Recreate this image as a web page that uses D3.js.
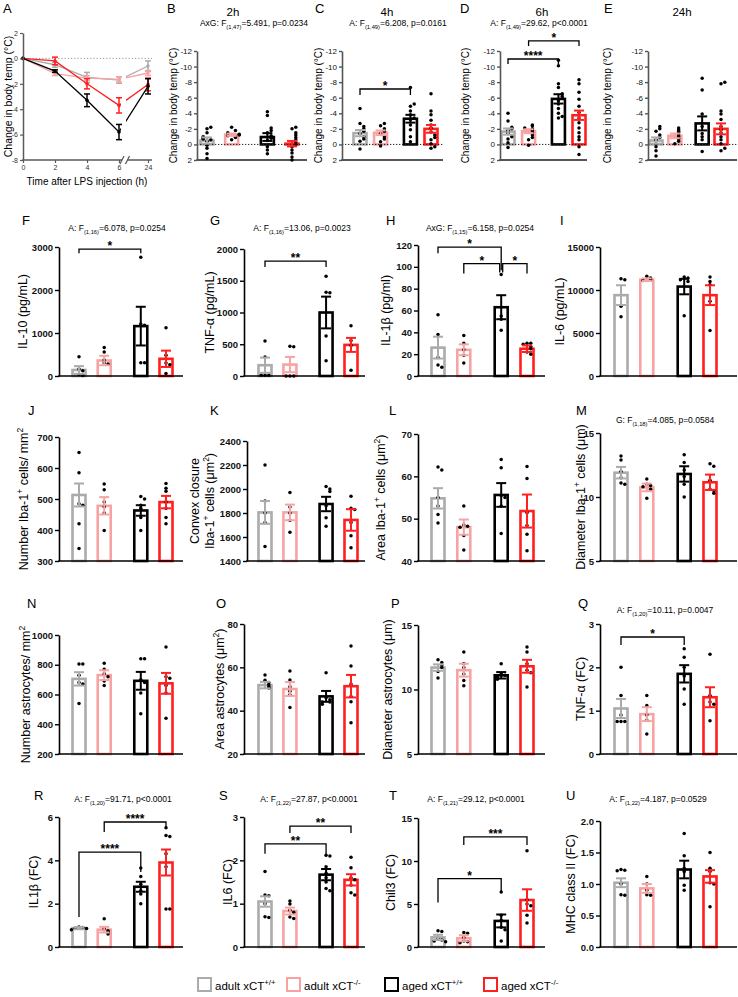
<!DOCTYPE html>
<html><head><meta charset="utf-8">
<script src="https://cdn.jsdelivr.net/npm/d3@7/dist/d3.min.js"></script>
<style>html,body{margin:0;padding:0;background:#fff}svg{display:block}</style>
</head><body>
<svg id="chart" width="738" height="997"></svg>
<script>
const FONT = "'Liberation Sans', Arial, Helvetica, sans-serif";
const groupNames = ["adult xCT^{+/+}", "adult xCT^{-/-}", "aged xCT^{+/+}", "aged xCT^{-/-}"];
const groupColors = ["#ababab", "#f7a3a3", "#000000", "#ff1f1f"];
const groupSlots = [0, 1, 2.45, 3.45];

// ---- Panel A: time course ----
const timeTicks = [0, 2, 4, 6, 24];
const tempTicks = [-8, -6, -4, -2, 0, 2];
const tempMeanAdultWT = [0, -0.5, -1.5, -1.7, -0.6];
const tempSemAdultWT  = [0, 0.2, 0.4, 0.25, 0.4];
const tempMeanAdultKO = [0, -1.2, -1.55, -1.65, -1.15];
const tempSemAdultKO  = [0, 0.15, 0.2, 0.2, 0.2];
const tempMeanAgedWT  = [0, -1.0, -3.3, -5.8, -2.2];
const tempSemAgedWT   = [0, 0.1, 0.5, 0.6, 0.6];
const tempMeanAgedKO  = [0, -0.2, -2.0, -3.7, -2.05];
const tempSemAgedKO   = [0, 0.3, 0.4, 0.6, 0.5];

// ---- Panels B-E: change in body temp ----
const ticksTemp = [2, 0, -2, -4, -6, -8, -10, -12];
const meanB = [-0.5, -1.25, -0.95, -0.1];
const semB  = [0.4, 0.15, 0.5, 0.35];
const ptsB = [[-2.2,-2.0,-1.5,-1.0,-0.8,-0.7,-0.6,-0.4,0.1,0.5,1.2,1.8],
              [-2.2,-1.8,-1.5,-1.3,-1.2,-1.1,-1.0,-0.9,-0.6],
              [-4.2,-3.7,-2.1,-1.8,-1.5,-1.1,-0.8,-0.5,0.3,0.7,1.2],
              [-2.2,-2.0,-1.5,-1.2,-0.9,-0.6,-0.3,0,0.3,0.7,1.1,1.6,2.0]];
const meanC = [-1.45, -1.5, -3.3, -2.0];
const semC  = [0.4, 0.3, 0.5, 0.5];
const ptsC = [[-4.6,-2.7,-2.3,-2.0,-1.7,-1.4,-1.0,-0.7,-0.4,0.6],
              [-2.7,-2.4,-2.0,-1.7,-1.4,-1.0,-0.7,-0.35,0.2],
              [-7.3,-5.2,-4.9,-4.3,-3.8,-3.4,-3.2,-2.5,-1.9,-1.0,-0.35],
              [-6.5,-4.3,-3.8,-3.1,-2.5,-2.1,-1.6,-1.2,-0.9,-0.6,-0.1,0.3,0.5]];
const meanD = [-1.65, -1.7, -5.85, -3.75];
const semD  = [0.4, 0.25, 0.6, 0.6];
const ptsD = [[-4.0,-3.0,-2.2,-2.0,-1.8,-1.4,-1.0,-0.7,-0.2,0.4],
              [-2.5,-2.4,-2.1,-2.0,-1.8,-1.5,-1.2,-0.9,-0.6,0.1],
              [-10.8,-10.1,-7.8,-7.3,-6.5,-6.2,-5.9,-5.6,-5.2,-4.6,-4.0,-3.6,-3.4],
              [-8.3,-7.8,-6.7,-5.8,-4.9,-4.1,-3.4,-2.8,-2.1,-1.5,-1.0,-0.6,0.3,1.3]];
const meanE = [-0.5, -1.1, -2.7, -2.0];
const semE  = [0.4, 0.3, 0.9, 0.7];
const ptsE = [[-2.3,-2.0,-1.7,-1.2,-0.9,-0.6,-0.1,0.3,0.8,1.5],
              [-2.1,-1.9,-1.7,-1.5,-1.2,-1.0,-0.7,-0.4,-0.1],
              [-8.5,-7.0,-3.9,-2.3,-1.4,-1.0,-0.6,0.9],
              [-8.0,-7.8,-4.3,-3.9,-3.2,-2.3,-1.9,-1.5,-1.0,-0.6,-0.1,0.5,0.8]];

// ---- F-I: serum cytokines ----
const ticksF = [0, 1000, 2000, 3000];
const meanF = [140, 360, 1160, 400];
const semF  = [90, 110, 450, 190];
const ptsF = [[450,160,120,40,10],[660,560,370,300,280],[2760,1210,1180,310,310],[1120,480,300,260,60]];
const ticksG = [0, 500, 1000, 1500, 2000];
const meanG = [170, 180, 1000, 490];
const semG  = [120, 120, 250, 110];
const ptsG = [[550,300,10,10,10],[470,460,0,0,0],[1570,1320,1310,630,240],[790,560,480,90]];
const ticksH = [0, 20, 40, 60, 80, 100, 120];
const meanH = [26, 24, 63, 25];
const semH  = [10, 5, 11, 3];
const ptsH = [[56,38,17,10,8],[37,30,24,19,12],[93,55,52,42],[30,30,29,27,25,22,20]];
const ticksI = [0, 5000, 10000, 15000];
const meanI = [9400, 11200, 10400, 9400];
const semI  = [1150, 150, 900, 1150];
const ptsI = [[11300,11200,8100,6900],[11600,11400,11200,11100],[11500,11400,11200,11000,7000],[11500,11000,10600,8700,5300]];

// ---- J-M: microglia ----
const ticksJ = [300, 400, 500, 600, 700];
const meanJ = [513, 478, 463, 490];
const semJ  = [37, 28, 17, 20];
const ptsJ = [[650,585,485,480,420,340],[548,530,490,475,455,398],[508,500,480,470,440,398],[550,535,525,490,470,440,420]];
const ticksK = [1400, 1600, 1800, 2000, 2200, 2400];
const meanK = [1805, 1805, 1875, 1742];
const semK  = [95, 65, 60, 90];
const ptsK = [[2200,1900,1800,1720,1520],[1970,1850,1800,1740,1640],[2020,2000,1980,1860,1760,1690],[1940,1840,1830,1720,1610,1510]];
const ticksL = [40, 50, 60, 70];
const meanL = [54.8, 48, 55.6, 51.8];
const semL  = [2.4, 1.8, 2.8, 3.9];
const ptsL = [[62.2,61.5,55,53,51,49],[53,48.5,48.2,48,46,42.6],[64,62,55.5,55,53,46.5],[62.3,59.5,51.4,48.4,46.3,42.4]];
const ticksM = [5, 10, 15];
const meanM = [11.9, 10.75, 11.8, 11.15];
const semM  = [0.45, 0.3, 0.6, 0.6];
const ptsM = [[13.2,12.9,12.0,11.5,11.1,11.0],[11.4,11.0,10.9,10.8,10.6,9.9],[13.3,12.7,12.1,11.6,11.0,10.0],[12.6,12.4,11.3,10.6,10.5,10.3]];

// ---- N-Q: astrocytes / TNF ----
const ticksN = [200, 400, 600, 800, 1000];
const meanN = [705, 730, 692, 675];
const semN  = [45, 33, 60, 70];
const ptsN = [[805,805,730,680,670,540],[810,770,740,720,690,660],[840,840,700,680,610,470],[920,720,710,660,610,440]];
const ticksO = [20, 40, 60, 80];
const meanO = [51.8, 50, 46.6, 51.3];
const semO  = [1.5, 3.2, 2.5, 5.2];
const ptsO = [[56.5,54,53,52,51,50.5],[58.3,54.2,51,49,47.3,41.5],[57.5,46,45,44,44,43],[69.8,60.6,52.3,46.5,44.1,34.4]];
const ticksP = [5, 10, 15];
const meanP = [11.7, 11.5, 11.1, 11.8];
const semP  = [0.25, 0.5, 0.25, 0.5];
const ptsP = [[12.3,12.1,11.9,11.7,11.4,10.9],[12.9,12.0,11.7,11.2,10.7,10.3],[12.0,11.2,11.1,11.0,10.9,10.8],[13.3,12.9,12.0,11.5,11.3,10.2]];
const ticksQ = [0, 1, 2, 3];
const meanQ = [1.05, 0.92, 1.85, 1.31];
const semQ  = [0.22, 0.16, 0.2, 0.23];
const ptsQ = [[2.0,1.35,0.9,0.75,0.75,0.75],[1.35,1.12,0.9,0.78,0.46],[2.43,2.23,2.0,1.8,1.5,1.15],[2.3,1.35,1.2,1.15,0.77]];

// ---- R-U: gene expression ----
const ticksR = [0, 2, 4, 6];
const meanR = [0.87, 0.8, 2.78, 3.9];
const semR  = [0.05, 0.13, 0.23, 0.6];
const ptsR = [[0.92,0.9,0.87,0.85,0.8],[1.3,0.85,0.75,0.7,0.6],[3.65,3.25,2.9,2.6,2.45,2.0],[5.5,5.15,5.1,4.3,3.7,1.75,1.75]];
const ticksS = [0, 1, 2, 3];
const meanS = [1.05, 0.83, 1.67, 1.55];
const semS  = [0.12, 0.08, 0.13, 0.13];
const ptsS = [[1.74,1.2,1.18,1.0,0.7,0.68],[1.06,0.99,0.85,0.8,0.69,0.66],[2.12,2.1,1.85,1.7,1.6,1.5,1.35,1.3],[2.07,1.83,1.6,1.55,1.43,1.25,1.2]];
const ticksT = [0, 5, 10, 15];
const meanT = [1.12, 1.02, 3.03, 5.46];
const semT  = [0.3, 0.35, 0.75, 1.25];
const ptsT = [[1.9,1.8,0.9,0.8,0.7,0.6],[1.7,1.6,1.1,0.7,0.6,0.5],[6.4,3.7,3.1,2.3,2.0,0.7],[11.2,5.5,5.0,4.8,3.7,2.8]];
const ticksU = [0, 0.5, 1.0, 1.5, 2.0];
const meanU = [1.02, 0.93, 1.23, 1.12];
const semU  = [0.07, 0.07, 0.14, 0.1];
const ptsU = [[1.23,1.22,1.21,1.0,0.83,0.82],[1.12,1.0,0.9,0.83,0.82],[1.8,1.45,1.25,1.2,0.98,0.9],[1.5,1.25,1.2,1.02,1.0,0.64]];

// brackets: [groupA, groupB, value, legA(px), legB(px), label, dxA, dxB]
const bracketsC = [[0, 2, -7.12, 6, 6, "*"]];
const bracketsD = [[0, 2, -10.97, 5, 5, "****"], [1, 3, -13.3, 5, 5, "*"]];
const bracketsF = [[0, 2, 2950, 4, 4, "*"]];
const bracketsG = [[0, 2, 1810, 6, 6, "**"]];
const bracketsH = [[0, 2, 118, 6, 23, "*"], [1, 2, 103, 10, 9, "*", 0, -1.5], [2, 3, 103, 9, 10, "*", 1.5, 0]];
const bracketsQ = [[0, 2, 2.7, 8, 8, "*"]];
const bracketsR = [[0, 2, 4.38, 65, 20, "****"], [1, 3, 5.77, 10, 6, "****"]];
const bracketsS = [[0, 2, 2.38, 10, 13, "**"], [1, 3, 2.79, 7, 7, "**"]];
const bracketsT = [[0, 2, 7.96, 24, 13, "*"], [1, 3, 12.8, 8, 8, "***"]];

const svg = d3.select("#chart").attr("font-family", FONT);

function segs(str) {
  const out = []; const re = /(\^\{[^}]*\}|_\{[^}]*\})/g; let last = 0, m;
  while ((m = re.exec(str))) {
    if (m.index > last) out.push({t: str.slice(last, m.index)});
    out.push({t: m[0].slice(2, -1), sup: m[0][0] === '^', sub: m[0][0] === '_'});
    last = re.lastIndex;
  }
  if (last < str.length) out.push({t: str.slice(last)});
  return out;
}
function richText(sel, str, size) {
  let shift = 0;
  segs(str).forEach(s => {
    const target = s.sup ? -size * 0.4 : s.sub ? size * 0.3 : 0;
    const t = sel.append("tspan").attr("dy", target - shift).text(s.t);
    if (s.sup || s.sub) t.attr("font-size", size * 0.68);
    shift = target;
  });
}

function drawBarPanel(p) {
  const g = svg.append("g");
  const y = d3.scaleLinear().domain([p.ticks[0], p.ticks[p.ticks.length - 1]]).range([p.yBot, p.yTop]);
  const x = d3.scaleLinear().domain([groupSlots[0], groupSlots[3]]).range([p.c0, p.c3]);
  const base = p.row1 ? 0 : p.ticks[0];
  const bw = 13;
  const axisCol = p.row1 ? "#555" : "#000";

  g.selectAll("rect.bar").data(p.mean).join("rect").attr("class", "bar")
    .attr("x", (d, i) => x(groupSlots[i]) - bw / 2)
    .attr("y", d => Math.min(y(base), y(d)))
    .attr("width", bw)
    .attr("height", d => Math.abs(y(d) - y(base)))
    .attr("fill", "none")
    .attr("stroke", (d, i) => groupColors[i])
    .attr("stroke-width", 2.6);

  if (p.row1) {
    g.append("line").attr("x1", p.ax).attr("x2", p.axEnd).attr("y1", y(0)).attr("y2", y(0))
      .attr("stroke", "#222").attr("stroke-width", 1).attr("stroke-dasharray", "1.3,1.7");
  }
  g.append("line").attr("x1", p.ax - 0.75).attr("x2", p.axEnd).attr("y1", p.yBot).attr("y2", p.yBot)
    .attr("stroke", axisCol).attr("stroke-width", p.row1 ? 2 : 1.6);

  const axis = d3.axisLeft(y).tickValues(p.ticks).tickSizeInner(p.row1 ? 3 : 4).tickSizeOuter(0)
    .tickPadding(2).tickFormat(p.fmt || (d => String(d)));
  const ag = g.append("g").attr("transform", `translate(${p.ax},0)`).call(axis)
    .attr("font-family", FONT).attr("font-size", p.row1 ? 8 : 9.5).attr("font-weight", p.row1 ? "normal" : "bold");
  ag.select(".domain").attr("stroke", axisCol).attr("stroke-width", 1.6);
  ag.selectAll(".tick line").attr("stroke", axisCol).attr("stroke-width", 1.4);
  ag.selectAll(".tick text").attr("fill", "#111");

  p.pts.forEach((arr, i) => {
    const cx = x(groupSlots[i]);
    const placed = [];
    const pos = arr.slice().sort((a, b) => b - a).map(v => {
      const py = y(v);
      const k = placed.filter(q => Math.abs(q - py) < 3).length;
      const off = k === 0 ? 0 : (k % 2 ? 1 : -1) * Math.ceil(k / 2) * 3.8;
      placed.push(py);
      return {x: cx + off, y: py};
    });
    g.selectAll(null).data(pos).join("circle")
      .attr("cx", d => d.x).attr("cy", d => d.y).attr("r", 1.75).attr("fill", "#000");
  });

  p.mean.forEach((m, i) => {
    const cx = x(groupSlots[i]);
    const s = p.sem[i];
    const yt = y(m + s), yb = y(m - s);
    const eg = g.append("g").attr("stroke", groupColors[i]).attr("stroke-width", 2);
    eg.append("line").attr("x1", cx).attr("x2", cx).attr("y1", yt).attr("y2", yb);
    eg.append("line").attr("x1", cx - 5).attr("x2", cx + 5).attr("y1", yt).attr("y2", yt);
    eg.append("line").attr("x1", cx - 5).attr("x2", cx + 5).attr("y1", yb).attr("y2", yb);
  });

  (p.brackets || []).forEach(b => {
    const x1 = x(groupSlots[b[0]]) + (b[6] || 0), x2 = x(groupSlots[b[1]]) + (b[7] || 0);
    const yv = y(b[2]);
    g.append("path").attr("d", `M${x1},${yv + b[3]}V${yv}H${x2}V${yv + b[4]}`)
      .attr("fill", "none").attr("stroke", "#000").attr("stroke-width", 1.3);
    g.append("text").attr("x", (x1 + x2) / 2).attr("y", yv + 1).attr("text-anchor", "middle")
      .attr("font-size", 12).attr("font-weight", "bold").text(b[5]);
  });

  const tc = (p.yTop + p.yBot) / 2;
  p.title.forEach((line, li) => {
    const t = g.append("text").attr("transform", `translate(${p.titleX[li]},${tc}) rotate(-90)`)
      .attr("text-anchor", "middle").attr("font-size", p.row1 ? 10 : 12.5).attr("fill", "#000");
    richText(t, line, p.row1 ? 10 : 12.5);
  });
  g.append("text").attr("x", p.letterX).attr("y", p.letterY).attr("font-size", 13).text(p.letter);
  if (p.head) g.append("text").attr("x", p.headX).attr("y", 15.5).attr("text-anchor", "middle").attr("font-size", 11.5).text(p.head);
  if (p.sub) {
    const t = g.append("text").attr("x", p.subX).attr("y", p.subY).attr("text-anchor", "middle").attr("font-size", 8.5);
    richText(t, p.sub, 8.5);
  }
}

function drawA() {
  const g = svg.append("g");
  const x = d3.scaleLinear().domain(timeTicks).range([23, 55, 87, 119, 148]);
  const y = d3.scaleLinear().domain([-8, 2]).range([160, 33]);
  const axCol = "#5a5a5a";
  g.append("line").attr("x1", 23).attr("x2", 152).attr("y1", y(0)).attr("y2", y(0))
    .attr("stroke", "#999").attr("stroke-width", 1).attr("stroke-dasharray", "1.2,2");
  const clip = svg.append("defs").append("clipPath").attr("id", "aclip");
  clip.append("rect").attr("x", 0).attr("y", 0).attr("width", 121).attr("height", 200);
  clip.append("rect").attr("x", 126).attr("y", 0).attr("width", 100).attr("height", 200);
  const series = [
    [tempMeanAdultWT, tempSemAdultWT, 0], [tempMeanAdultKO, tempSemAdultKO, 1],
    [tempMeanAgedKO, tempSemAgedKO, 3], [tempMeanAgedWT, tempSemAgedWT, 2]];
  const line = d3.line().x((d, i) => x(timeTicks[i])).y(d => y(d));
  series.forEach(([m, s, gi]) => {
    const col = groupColors[gi];
    g.append("path").attr("d", line(m)).attr("fill", "none").attr("stroke", col)
      .attr("stroke-width", 1.3).attr("clip-path", "url(#aclip)");
    m.forEach((v, i) => {
      const cx = x(timeTicks[i]);
      if (s[i] > 0) {
        const eg = g.append("g").attr("stroke", col).attr("stroke-width", 1.5);
        eg.append("line").attr("x1", cx).attr("x2", cx).attr("y1", y(v + s[i])).attr("y2", y(v - s[i]));
        eg.append("line").attr("x1", cx - 3).attr("x2", cx + 3).attr("y1", y(v + s[i])).attr("y2", y(v + s[i]));
        eg.append("line").attr("x1", cx - 3).attr("x2", cx + 3).attr("y1", y(v - s[i])).attr("y2", y(v - s[i]));
      }
      g.append("circle").attr("cx", cx).attr("cy", y(v)).attr("r", 1.8).attr("fill", col);
    });
  });
  const ya = d3.axisLeft(y).tickValues(tempTicks).tickSizeInner(3).tickSizeOuter(0).tickPadding(2).tickFormat(d => String(d));
  const yg = g.append("g").attr("transform", "translate(23,0)").call(ya).attr("font-size", 7).attr("font-family", FONT);
  yg.select(".domain").attr("stroke", axCol).attr("stroke-width", 1.5);
  yg.selectAll(".tick line").attr("stroke", axCol).attr("stroke-width", 1.2);
  yg.selectAll(".tick text").attr("fill", "#333");
  const xa = d3.axisBottom(x).tickValues(timeTicks).tickSizeInner(3).tickSizeOuter(0).tickPadding(2);
  const xg = g.append("g").attr("transform", "translate(0,160)").call(xa).attr("font-size", 7).attr("font-family", FONT);
  xg.select(".domain").remove();
  xg.selectAll(".tick line").attr("stroke", axCol).attr("stroke-width", 1.2);
  xg.selectAll(".tick text").attr("fill", "#333");
  g.append("line").attr("x1", 22.25).attr("x2", 122).attr("y1", 160).attr("y2", 160).attr("stroke", axCol).attr("stroke-width", 1.5);
  g.append("line").attr("x1", 127.5).attr("x2", 152).attr("y1", 160).attr("y2", 160).attr("stroke", axCol).attr("stroke-width", 1.5);
  g.append("line").attr("x1", 120).attr("x2", 124).attr("y1", 164).attr("y2", 156).attr("stroke", axCol).attr("stroke-width", 1.2);
  g.append("line").attr("x1", 125.5).attr("x2", 129.5).attr("y1", 164).attr("y2", 156).attr("stroke", axCol).attr("stroke-width", 1.2);
  g.append("text").attr("transform", `translate(12,${(33 + 160) / 2}) rotate(-90)`).attr("text-anchor", "middle")
    .attr("font-size", 10.5).text("Change in body temp (°C)");
  g.append("text").attr("x", 87).attr("y", 185).attr("text-anchor", "middle").attr("font-size", 10).text("Time after LPS injection (h)");
  g.append("text").attr("x", 3).attr("y", 13).attr("font-size", 13).text("A");
}
drawA();

const tempTitle = ["Change in body temp (°C)"];
const row1 = [
  {letter: "B", letterX: 167, head: "2h", headX: 233, sub: "AxG: F_{(1,47)}=5.491, p=0.0234", subX: 254, ax: 197, axEnd: 307, c0: 207, c3: 292, mean: meanB, sem: semB, pts: ptsB, titleX: [176.5]},
  {letter: "C", letterX: 315, head: "4h", headX: 387, sub: "A: F_{(1,49)}=6.208, p=0.0161", subX: 398, ax: 342, axEnd: 443, c0: 360, c3: 431, mean: meanC, sem: semC, pts: ptsC, brackets: bracketsC, titleX: [321.5]},
  {letter: "D", letterX: 460, head: "6h", headX: 542, sub: "A: F_{(1,49)}=29.62, p<0.0001", subX: 539, ax: 500, axEnd: 587, c0: 508, c3: 579, mean: meanD, sem: semD, pts: ptsD, brackets: bracketsD, titleX: [468.5]},
  {letter: "E", letterX: 604, head: "24h", headX: 682, ax: 648, axEnd: 737, c0: 656, c3: 721, mean: meanE, sem: semE, pts: ptsE, titleX: [610.5]}
];
row1.forEach(p => drawBarPanel(Object.assign({row1: true, ticks: ticksTemp, yTop: 51, yBot: 160, letterY: 13, subY: 26, title: tempTitle}, p)));

const colAx = [59, 244, 418, 600];
const colEnd = [183, 365, 545, 737];
const colC0 = [79, 265, 438, 621];
const colC3 = [166, 351, 527, 710];
function std(col, p) {
  return Object.assign({ax: colAx[col], axEnd: colEnd[col], c0: colC0[col], c3: colC3[col]}, p);
}
const panels = [
  std(0, {letter: "F", letterX: 22, letterY: 225, sub: "A: F_{(1,16)}=6.078, p=0.0254", subX: 117, subY: 231, ticks: ticksF, yTop: 247, yBot: 376, mean: meanF, sem: semF, pts: ptsF, brackets: bracketsF, title: ["IL-10 (pg/mL)"], titleX: [26.5]}),
  std(1, {letter: "G", letterX: 210, letterY: 225, sub: "A: F_{(1,16)}=13.06, p=0.0023", subX: 302, subY: 231, ticks: ticksG, yTop: 249, yBot: 376, mean: meanG, sem: semG, pts: ptsG, brackets: bracketsG, title: ["TNF-α (pg/mL)"], titleX: [213.5]}),
  std(2, {letter: "H", letterX: 386, letterY: 225, sub: "AxG: F_{(1,15)}=6.158, p=0.0254", subX: 480, subY: 231, ticks: ticksH, yTop: 245, yBot: 376, mean: meanH, sem: semH, pts: ptsH, brackets: bracketsH, title: ["IL-1β (pg/ml)"], titleX: [389.5]}),
  std(3, {letter: "I", letterX: 560, letterY: 225, ticks: ticksI, yTop: 247, yBot: 376, mean: meanI, sem: semI, pts: ptsI, title: ["IL-6 (pg/mL)"], titleX: [564]}),

  std(0, {letter: "J", letterX: 28, letterY: 415, ticks: ticksJ, yTop: 437, yBot: 561, mean: meanJ, sem: semJ, pts: ptsJ, title: ["Number Iba-1^{+} cells/ mm^{2}"], titleX: [27.5]}),
  std(1, {letter: "K", letterX: 210, letterY: 415, ax: 247, ticks: ticksK, yTop: 441, yBot: 561, mean: meanK, sem: semK, pts: ptsK, title: ["Convex closure", "Iba-1^{+} cells (μm^{2})"], titleX: [198.5, 214]}),
  std(2, {letter: "L", letterX: 389, letterY: 415, ticks: ticksL, yTop: 434, yBot: 561, mean: meanL, sem: semL, pts: ptsL, title: ["Area Iba-1^{+} cells (μm^{2})"], titleX: [384.5]}),
  std(3, {letter: "M", letterX: 576, letterY: 415, sub: "G: F_{(1,18)}=4.085, p=0.0584", subX: 665, subY: 423, ticks: ticksM, yTop: 433, yBot: 561, mean: meanM, sem: semM, pts: ptsM, title: ["Diameter Iba-1^{+} cells (μm)"], titleX: [584.5]}),

  std(0, {letter: "N", letterX: 27, letterY: 608, ticks: ticksN, yTop: 635, yBot: 754, mean: meanN, sem: semN, pts: ptsN, title: ["Number astrocytes/ mm^{2}"], titleX: [29.5]}),
  std(1, {letter: "O", letterX: 216, letterY: 608, ticks: ticksO, yTop: 624, yBot: 754, mean: meanO, sem: semO, pts: ptsO, title: ["Area astrocytes (μm^{2})"], titleX: [223.5]}),
  std(2, {letter: "P", letterX: 391, letterY: 608, ticks: ticksP, yTop: 625, yBot: 754, mean: meanP, sem: semP, pts: ptsP, title: ["Diameter astrocytes (μm)"], titleX: [391.5]}),
  std(3, {letter: "Q", letterX: 578, letterY: 608, sub: "A: F_{(1,20)}=10.11, p=0.0047", subX: 665, subY: 613, ticks: ticksQ, yTop: 624, yBot: 754, mean: meanQ, sem: semQ, pts: ptsQ, brackets: bracketsQ, title: ["TNF-α (FC)"], titleX: [584.5]}),

  std(0, {letter: "R", letterX: 34, letterY: 800, sub: "A: F_{(1,20)}=91.71, p<0.0001", subX: 123, subY: 802, ticks: ticksR, yTop: 817, yBot: 947, mean: meanR, sem: semR, pts: ptsR, brackets: bracketsR, title: ["IL1β (FC)"], titleX: [37.5]}),
  std(1, {letter: "S", letterX: 219, letterY: 800, sub: "A: F_{(1,22)}=27.87, p<0.0001", subX: 309, subY: 802, ticks: ticksS, yTop: 817, yBot: 947, mean: meanS, sem: semS, pts: ptsS, brackets: bracketsS, title: ["IL6 (FC)"], titleX: [231.5]}),
  std(2, {letter: "T", letterX: 389, letterY: 800, sub: "A: F_{(1,21)}=29.12, p<0.0001", subX: 476, subY: 802, ticks: ticksT, yTop: 818, yBot: 947, mean: meanT, sem: semT, pts: ptsT, brackets: bracketsT, title: ["Chil3 (FC)"], titleX: [394.5]}),
  std(3, {letter: "U", letterX: 566, letterY: 800, sub: "A: F_{(1,22)}=4.187, p=0.0529", subX: 658, subY: 802, ticks: ticksU, yTop: 821, yBot: 947, mean: meanU, sem: semU, pts: ptsU, title: ["MHC class II (FC)"], titleX: [574.5], fmt: d3.format(".1f")})
];
panels.forEach(drawBarPanel);

const legendX = [198, 287, 385, 484];
const lg = svg.append("g");
groupNames.forEach((n, i) => {
  lg.append("rect").attr("x", legendX[i]).attr("y", 978).attr("width", 13).attr("height", 13)
    .attr("fill", "none").attr("stroke", groupColors[i]).attr("stroke-width", 2);
  const t = lg.append("text").attr("x", legendX[i] + 17).attr("y", 990).attr("font-size", 11.5);
  richText(t, n, 11.5);
});
</script>
</body></html>
